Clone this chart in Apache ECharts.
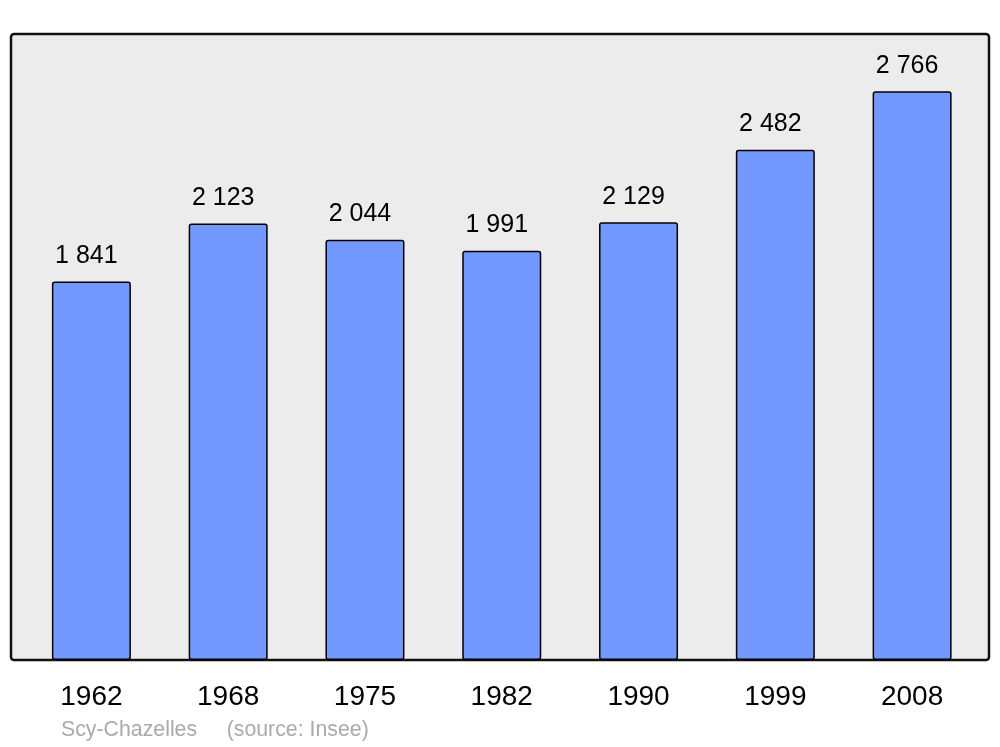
<!DOCTYPE html>
<html>
<head>
<meta charset="utf-8">
<script src="https://cdn.jsdelivr.net/npm/echarts@6/dist/echarts.min.js"></script>
<style>html,body{margin:0;padding:0;background:#fff;}#c{width:1000px;height:747px;}</style>
</head>
<body>
<div id="c"></div>
<script>
const years = ['1962','1968','1975','1982','1990','1999','2008'];
const population = [1841, 2123, 2044, 1991, 2129, 2482, 2766];
const sourceText = 'Scy-Chazelles     (source: Insee)';

function fmt(v){ return String(v).replace(/\B(?=(\d{3})+(?!\d))/g, ' '); }

const chart = echarts.init(document.getElementById('c'), null, {renderer:'canvas'});
chart.setOption({
  animation: false,
  backgroundColor: '#ffffff',
  graphic: [
    { type: 'rect', z: -10, shape: { x: 11, y: 34, width: 978, height: 626, r: 3 },
      style: { fill: '#ececec', stroke: '#111111', lineWidth: 2.5 } },
    { type: 'text', left: 61, top: 720,
      style: { text: sourceText, fill: '#aaaaaa', font: '21.3px "Liberation Sans", Arial, sans-serif' } }
  ],
  grid: { left: 23, right: 19.5, top: 34, bottom: 87 },
  xAxis: {
    type: 'category', data: years,
    axisLine: { show: false }, axisTick: { show: false },
    axisLabel: { color: '#000', fontSize: 28, fontFamily: 'Liberation Sans, Arial, sans-serif', margin: 23 }
  },
  yAxis: {
    type: 'value', min: 0, max: 3045,
    show: false, splitLine: { show: false }
  },
  series: [{
    type: 'bar', data: population, barWidth: 79,
    itemStyle: { color: '#7399ff', borderColor: '#000', borderWidth: 1.5, borderRadius: 2 },
    label: { show: true, position: 'top', distance: 13, offset: [-5, 0], color: '#000', fontSize: 25,
      fontFamily: 'Liberation Sans, Arial, sans-serif', formatter: p => fmt(p.value) }
  }]
});
</script>
</body>
</html>
